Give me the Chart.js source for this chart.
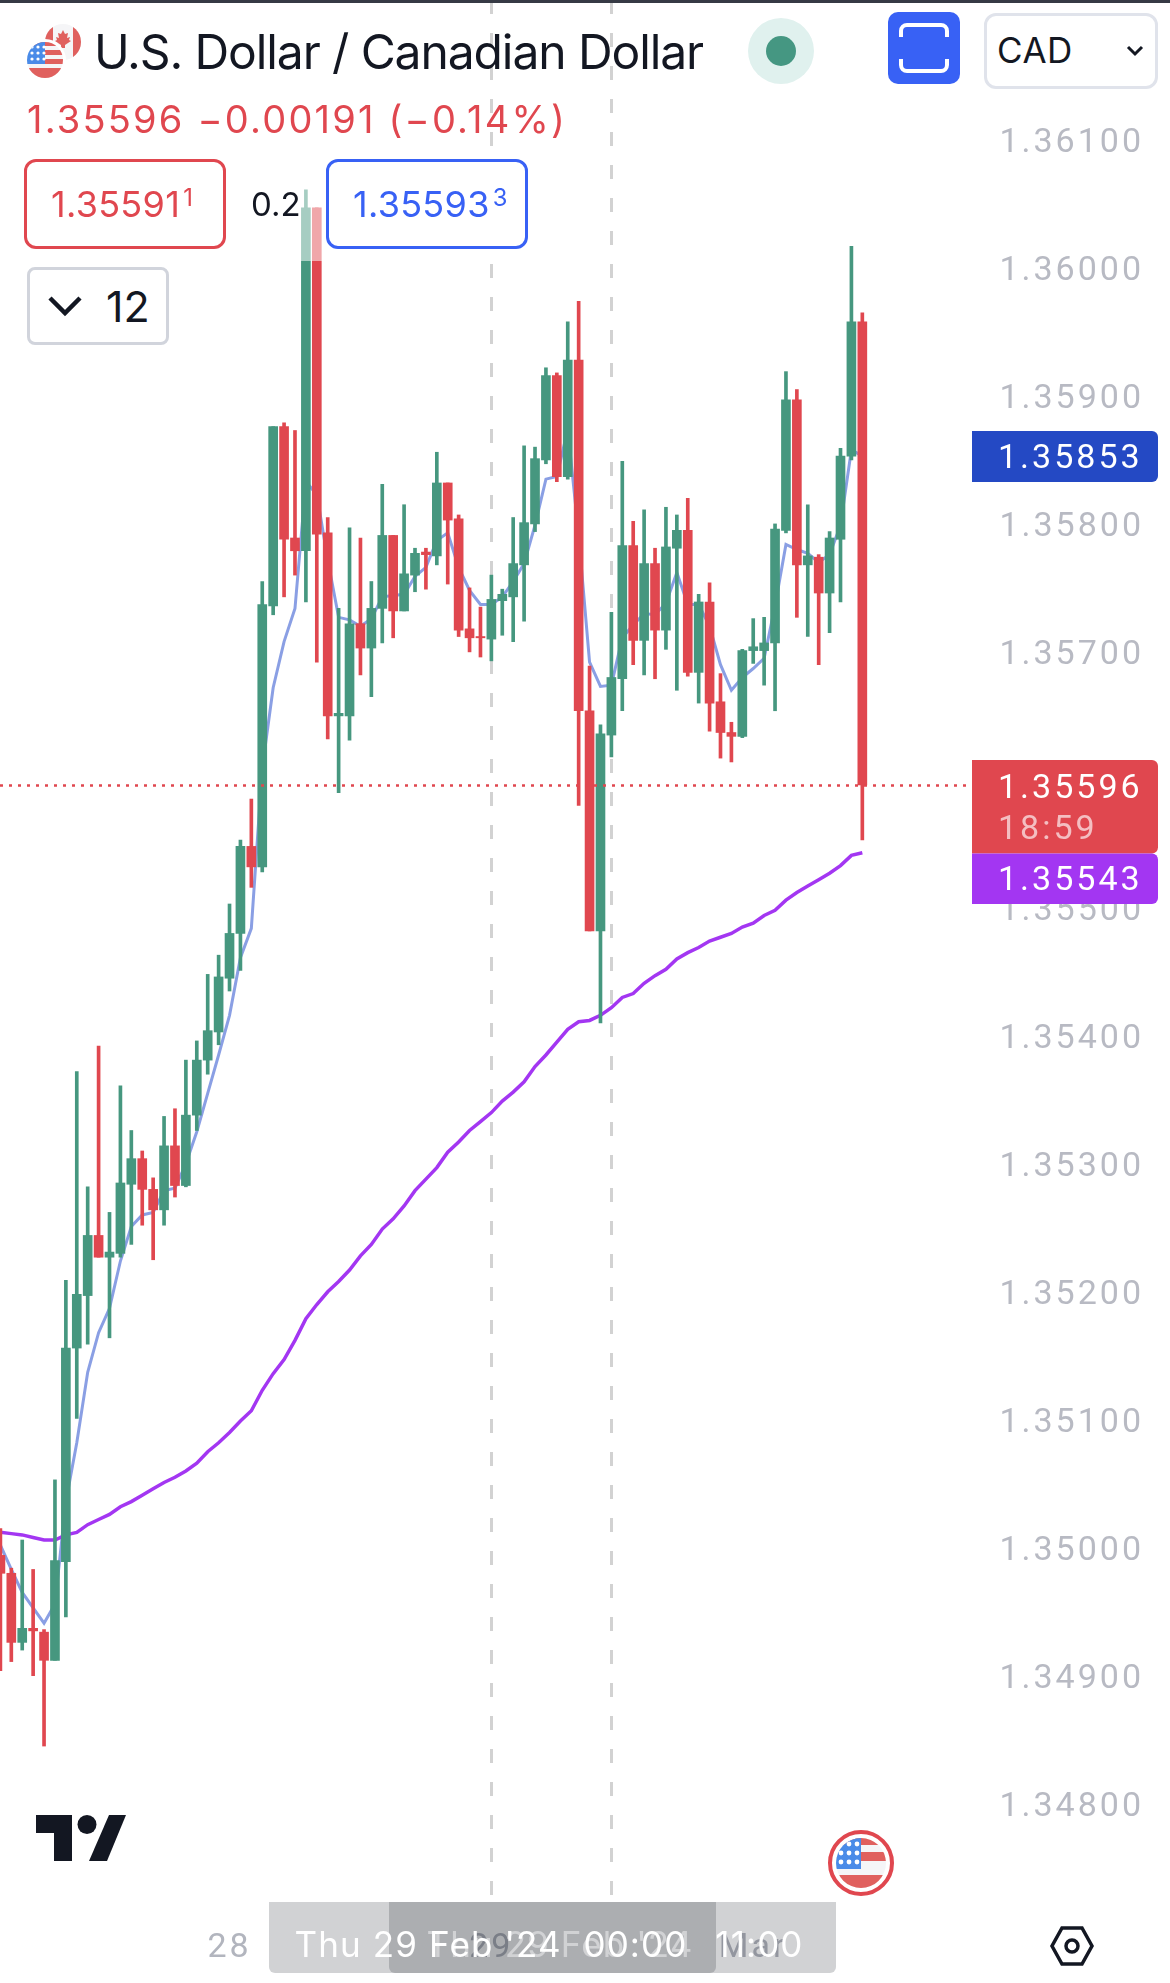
<!DOCTYPE html>
<html>
<head>
<meta charset="utf-8">
<script src="https://cdn.jsdelivr.net/npm/chart.js@4"></script>
<style>
html,body{margin:0;padding:0;background:#fff;width:1170px;height:1983px;overflow:hidden;font-family:Inter,sans-serif;}
#wrap{position:relative;width:1170px;height:1983px;overflow:hidden;}
canvas{position:absolute;left:0;top:0;}
.a{position:absolute;white-space:pre;line-height:1;}
.box{position:absolute;box-sizing:border-box;background:#fff;}
sup{font-size:.66em;vertical-align:baseline;position:relative;top:-.45em;margin-left:3px;}
</style>
</head>
<body>
<div id="wrap">
<canvas id="c" width="1170" height="1983"></canvas>

<div style="position:absolute;left:0;top:0;width:1170px;height:3px;background:#363a45"></div>

<!-- flags -->
<svg class="a" style="left:0;top:0" width="130" height="90" viewBox="0 0 130 90">
 <defs>
  <clipPath id="ca"><circle cx="63" cy="42" r="18"/></clipPath>
  <clipPath id="us"><circle cx="45" cy="60" r="18"/></clipPath>
 </defs>
 <g clip-path="url(#ca)">
  <rect x="45" y="24" width="36" height="36" fill="#f5f5f7"/>
  <rect x="45" y="24" width="8" height="36" fill="#e0605e"/>
  <rect x="73" y="24" width="8" height="36" fill="#e0605e"/>
  <path d="M63 30l2 4 3-1-1 5 3-1-1 3 2 1-6 4v3h-4v-3l-6-4 2-1-1-3 3 1-1-5 3 1z" fill="#e0605e"/>
 </g>
 <circle cx="45" cy="60" r="21" fill="#fff"/>
 <g clip-path="url(#us)">
  <rect x="27" y="42" width="36" height="36" fill="#f5f5f7"/>
  <rect x="27" y="42" width="36" height="4" fill="#e0605e"/>
  <rect x="45" y="50" width="18" height="5" fill="#e0605e"/>
  <rect x="45" y="59" width="18" height="5" fill="#e0605e"/>
  <rect x="27" y="68" width="36" height="10" fill="#e0605e"/>
  <rect x="27" y="42" width="18" height="22" fill="#4a8be8"/>
  <g fill="#fff">
   <circle cx="32" cy="47" r="1.6"/><circle cx="38" cy="47" r="1.6"/><circle cx="44" cy="47" r="1.6"/>
   <circle cx="32" cy="53" r="1.6"/><circle cx="38" cy="53" r="1.6"/><circle cx="44" cy="53" r="1.6"/>
   <circle cx="32" cy="59" r="1.6"/><circle cx="38" cy="59" r="1.6"/><circle cx="44" cy="59" r="1.6"/>
  </g>
 </g>
</svg>

<div class="a" style="left:94px;top:28px;font-size:48px;letter-spacing:-1.1px;color:#131722">U.S. Dollar / Canadian Dollar</div>
<div class="a" style="left:27px;top:100px;font-size:38px;letter-spacing:2.2px;color:#e0474f">1.35596 &#8722;0.00191 (&#8722;0.14%)</div>

<!-- status dot -->
<svg class="a" style="left:745px;top:15px" width="72" height="72"><circle cx="36" cy="36" r="33" fill="#e0f1ee"/><circle cx="36" cy="36" r="15" fill="#459782"/></svg>

<!-- full screen button -->
<svg class="a" style="left:888px;top:12px" width="72" height="72">
 <rect width="72" height="72" rx="10" fill="#3861f5"/>
 <path d="M13 25v-6a6 6 0 0 1 6-6h34a6 6 0 0 1 6 6v6M13 47v6a6 6 0 0 0 6 6h34a6 6 0 0 0 6-6v-6" fill="none" stroke="#fff" stroke-width="4"/>
</svg>

<!-- currency select -->
<div class="box" style="left:984px;top:13px;width:174px;height:76px;border:3px solid #e0e3eb;border-radius:12px"></div>
<div class="a" style="left:997px;top:33px;font-size:35px;letter-spacing:.5px;color:#131722">CAD</div>
<svg class="a" style="left:1126px;top:44px" width="18" height="14"><path d="M2 3l7 7 7-7" fill="none" stroke="#131722" stroke-width="3"/></svg>

<!-- veil over the candles behind the order row -->
<div style="position:absolute;left:235px;top:150px;width:95px;height:111px;background:rgba(255,255,255,.52)"></div>

<!-- sell / buy -->
<div class="box" style="left:24px;top:159px;width:202px;height:90px;border:3px solid #e0474f;border-radius:12px"></div>
<div class="a" style="left:51px;top:186px;font-size:36px;letter-spacing:.3px;color:#e0474f">1.35591<sup>1</sup></div>
<div class="a" style="left:251px;top:188px;font-size:33px;color:#131722">0.2</div>
<div class="box" style="left:326px;top:159px;width:202px;height:90px;border:3px solid #3861f5;border-radius:12px"></div>
<div class="a" style="left:353px;top:186px;font-size:36px;letter-spacing:.3px;color:#3861f5">1.35593<sup>3</sup></div>

<!-- quantity -->
<div class="box" style="left:27px;top:267px;width:142px;height:78px;border:3px solid #d1d4dc;border-radius:8px"></div>
<svg class="a" style="left:47px;top:294px" width="36" height="24"><path d="M3 4l15 15 15-15" fill="none" stroke="#131722" stroke-width="4.5"/></svg>
<div class="a" style="left:106px;top:285px;font-size:43px;color:#131722">12</div>

<!-- logo -->
<svg class="a" style="left:36px;top:1815px" width="90" height="46" viewBox="0 0 90 46" fill="#131722">
 <path d="M0 0h36v46H18V18H0z"/>
 <circle cx="51" cy="9.5" r="9.5"/>
 <path d="M73 0h17L71 46H53z"/>
</svg>

<!-- news flag -->
<svg class="a" style="left:826px;top:1828px" width="70" height="70">
 <defs><clipPath id="us2"><circle cx="35" cy="35" r="25"/></clipPath></defs>
 <circle cx="35" cy="35" r="31" fill="#fff" stroke="#e0474f" stroke-width="4"/>
 <g clip-path="url(#us2)">
  <rect x="8" y="8" width="54" height="54" fill="#f5f5f7"/>
  <rect x="8" y="10" width="54" height="7" fill="#e0605e"/>
  <rect x="35" y="24" width="27" height="9" fill="#e0605e"/>
  <rect x="8" y="47" width="54" height="15" fill="#e0605e"/>
  <rect x="8" y="8" width="27" height="33" fill="#4a8be8"/>
  <g fill="#fff">
   <circle cx="15" cy="16" r="2.4"/><circle cx="23" cy="16" r="2.4"/><circle cx="31" cy="16" r="2.4"/>
   <circle cx="15" cy="25" r="2.4"/><circle cx="23" cy="25" r="2.4"/><circle cx="31" cy="25" r="2.4"/>
   <circle cx="15" cy="34" r="2.4"/><circle cx="23" cy="34" r="2.4"/><circle cx="31" cy="34" r="2.4"/>
  </g>
 </g>
</svg>

<!-- crosshair time labels -->
<div style="position:absolute;left:389px;top:1902px;width:447px;height:71px;background:rgba(19,23,34,.195);border-radius:0 0 6px 6px"></div>
<div class="a" id="t2" style="left:615px;top:1927px;font-size:35px;letter-spacing:1.1px;color:#fff;transform:translateX(-50%)"></div>
<div style="position:absolute;left:269px;top:1902px;width:447px;height:71px;background:rgba(19,23,34,.195);border-radius:0 0 6px 6px"></div>
<div class="a" id="t1" style="left:491px;top:1927px;font-size:35px;letter-spacing:1.1px;color:#fff;transform:translateX(-50%)"></div>

<!-- settings -->
<svg class="a" style="left:1049px;top:1925px" width="46" height="42"><path d="M13 3h20l10 18-10 18H13L3 21z" fill="none" stroke="#131722" stroke-width="3.5"/><circle cx="23" cy="21" r="6" fill="none" stroke="#131722" stroke-width="3.5"/></svg>
</div>

<script>
// One-hour USD/CAD candles, left to right
const opens = [1.34994,1.34980,1.34926,1.34937,1.34934,1.34912,1.34989,1.35156,1.35197,1.35244,1.35227,1.35230,1.35284,1.35304,1.35280,1.35264,1.35314,1.35283,1.35338,1.35381,1.35403,1.35445,1.35480,1.35548,1.35532,1.35736,1.35876,1.35789,1.35779,1.36047,1.35793,1.35650,1.35650,1.35722,1.35703,1.35734,1.35791,1.35732,1.35760,1.35778,1.35775,1.35832,1.35804,1.35718,1.35712,1.35710,1.35740,1.35743,1.35768,1.35800,1.35850,1.35916,1.35837,1.35928,1.35654,1.35482,1.35635,1.35679,1.35783,1.35709,1.35769,1.35717,1.35781,1.35795,1.35684,1.35739,1.35661,1.35637,1.35634,1.35701,1.35701,1.35707,1.35795,1.35897,1.35768,1.35774,1.35746,1.35788,1.35853,1.35958];
const closes = [1.34980,1.34926,1.34937,1.34935,1.34912,1.34990,1.35156,1.35198,1.35244,1.35227,1.35231,1.35285,1.35304,1.35280,1.35264,1.35314,1.35283,1.35338,1.35381,1.35404,1.35446,1.35480,1.35548,1.35532,1.35737,1.35876,1.35788,1.35779,1.36047,1.35792,1.35650,1.35652,1.35722,1.35703,1.35734,1.35791,1.35732,1.35761,1.35777,1.35776,1.35832,1.35803,1.35717,1.35711,1.35711,1.35741,1.35745,1.35769,1.35801,1.35851,1.35916,1.35837,1.35928,1.35654,1.35482,1.35636,1.35680,1.35783,1.35709,1.35769,1.35717,1.35782,1.35795,1.35684,1.35739,1.35660,1.35637,1.35634,1.35701,1.35704,1.35707,1.35796,1.35897,1.35768,1.35775,1.35746,1.35789,1.35853,1.35958,1.35596];
const highs = [1.35015,1.34984,1.35006,1.34983,1.34936,1.35053,1.35209,1.35372,1.35282,1.35392,1.35262,1.35361,1.35326,1.35310,1.35289,1.35337,1.35343,1.35381,1.35396,1.35448,1.35463,1.35503,1.35553,1.35585,1.35755,1.35876,1.35879,1.35873,1.36061,1.36047,1.35805,1.35734,1.35797,1.35789,1.35755,1.35831,1.35791,1.35815,1.35781,1.35781,1.35856,1.35832,1.35807,1.35750,1.35735,1.35760,1.35749,1.35805,1.35861,1.35860,1.35922,1.35918,1.35958,1.35974,1.35689,1.35643,1.35731,1.35849,1.35802,1.35811,1.35781,1.35813,1.35807,1.35820,1.35745,1.35754,1.35683,1.35645,1.35702,1.35726,1.35727,1.35800,1.35919,1.35905,1.35815,1.35776,1.35794,1.35859,1.36017,1.35965];
const lows = [1.34904,1.34911,1.34920,1.34900,1.34845,1.34912,1.34946,1.35101,1.35159,1.35227,1.35164,1.35227,1.35237,1.35252,1.35225,1.35252,1.35274,1.35282,1.35326,1.35370,1.35393,1.35435,1.35451,1.35516,1.35528,1.35729,1.35743,1.35760,1.35739,1.35692,1.35632,1.35590,1.35631,1.35682,1.35665,1.35707,1.35711,1.35732,1.35747,1.35749,1.35768,1.35753,1.35712,1.35700,1.35696,1.35693,1.35713,1.35708,1.35724,1.35794,1.35847,1.35833,1.35835,1.35580,1.35482,1.35410,1.35618,1.35654,1.35690,1.35682,1.35679,1.35702,1.35670,1.35681,1.35660,1.35638,1.35617,1.35614,1.35633,1.35691,1.35674,1.35654,1.35793,1.35727,1.35712,1.35690,1.35715,1.35739,1.35850,1.35553];
const fastMA = [1.35002,1.34983,1.34965,1.34953,1.34941,1.34956,1.35036,1.35082,1.35137,1.35168,1.35187,1.35224,1.35251,1.35260,1.35262,1.35279,1.35281,1.35300,1.35325,1.35355,1.35385,1.35416,1.35461,1.35484,1.35609,1.35672,1.35708,1.35734,1.35833,1.35823,1.35772,1.35727,1.35725,1.35720,1.35726,1.35743,1.35744,1.35745,1.35759,1.35766,1.35787,1.35793,1.35766,1.35748,1.35737,1.35737,1.35743,1.35755,1.35769,1.35799,1.35835,1.35837,1.35874,1.35791,1.35692,1.35673,1.35674,1.35711,1.35721,1.35730,1.35729,1.35738,1.35762,1.35737,1.35737,1.35720,1.35690,1.35670,1.35680,1.35687,1.35695,1.35736,1.35784,1.35780,1.35777,1.35770,1.35776,1.35799,1.35858,1.35853];
const slowMA = [1.35012,1.35011,1.35010,1.35008,1.35006,1.35006,1.35010,1.35012,1.35018,1.35022,1.35026,1.35032,1.35036,1.35041,1.35046,1.35051,1.35055,1.35060,1.35066,1.35075,1.35082,1.35090,1.35099,1.35107,1.35123,1.35136,1.35147,1.35162,1.35179,1.35190,1.35200,1.35208,1.35217,1.35228,1.35237,1.35249,1.35257,1.35267,1.35279,1.35288,1.35297,1.35309,1.35317,1.35326,1.35333,1.35340,1.35349,1.35356,1.35364,1.35376,1.35385,1.35395,1.35405,1.35411,1.35412,1.35416,1.35422,1.35430,1.35433,1.35441,1.35447,1.35452,1.35460,1.35465,1.35469,1.35474,1.35477,1.35480,1.35485,1.35488,1.35494,1.35498,1.35506,1.35512,1.35517,1.35522,1.35527,1.35533,1.35541,1.35543];

const priceTicks = [1.361,1.36,1.359,1.358,1.357,1.356,1.355,1.354,1.353,1.352,1.351,1.35,1.349,1.348];
const timeTickIndex = [21,45,69];
const timeTickLabels = ['28','29','Mar'];
const crosshairIndex = [45,56];
const crosshairLabels = ["Thu 29 Feb '24  00:00","Thu 29 Feb '24  11:00"];
const lastPrice = 1.35596;
const countdown = '18:59';
const fastLast = 1.35853;
const slowLast = 1.35543;

const GREEN = '#46977f', RED = '#e0474f', BLUE_MA = '#8a9fe4', PURPLE = '#a336f2';
const FONT = 'Roboto, sans-serif';
const candleColor = opens.map((o,i) => closes[i] >= o ? GREEN : RED);

document.getElementById('t1').textContent = crosshairLabels[0];
document.getElementById('t2').textContent = crosshairLabels[1];

const overlays = {
  id:'overlays',
  beforeDraw(chart){
    chart.ctx.letterSpacing = '3px';
    // nudge the price labels down to sit on their levels
    chart.scales.y.getLabelItems(chart.chartArea).forEach(it => { if(!it.nudged){ it.options.translation[1] += 3.5; it.nudged = true; } });
  },
  beforeDatasetsDraw(chart){
    const {ctx, scales:{x}} = chart;
    ctx.save();
    ctx.strokeStyle = '#d2d2d2'; ctx.lineWidth = 3; ctx.setLineDash([14,19]);
    crosshairIndex.forEach(i => {
      const px = Math.round(x.getPixelForValue(i)) + .5;
      ctx.beginPath(); ctx.moveTo(px,0); ctx.lineTo(px,1896); ctx.stroke();
    });
    ctx.restore();
  },
  afterDatasetsDraw(chart){
    const {ctx, scales:{y}} = chart;
    const py = y.getPixelForValue(lastPrice);
    ctx.save();
    ctx.strokeStyle = RED; ctx.lineWidth = 2.5; ctx.setLineDash([3,6]);
    ctx.beginPath(); ctx.moveTo(0,Math.round(py)+.5); ctx.lineTo(968,Math.round(py)+.5); ctx.stroke();
    ctx.setLineDash([]);
    const tag = (top,h,color) => {
      ctx.fillStyle = color; ctx.beginPath();
      ctx.roundRect(972,top,186,h,[0,6,6,0]); ctx.fill();
    };
    ctx.textAlign='left'; ctx.textBaseline='middle';
    ctx.font = '400 34px '+FONT;
    const yf = y.getPixelForValue(fastLast);
    tag(yf-25,51,'#2449c4');
    ctx.fillStyle='#fff'; ctx.fillText(fastLast.toFixed(5),998,yf+3.5);
    tag(py-25,93.5,RED);
    ctx.fillStyle='#fff'; ctx.fillText(lastPrice.toFixed(5),998,py+4.5);
    ctx.fillStyle='rgba(255,255,255,.65)'; ctx.fillText(countdown,998,py+45.5);
    const ys = y.getPixelForValue(slowLast);
    tag(py+68.5,50.5,PURPLE);
    ctx.fillStyle='#fff'; ctx.fillText(slowLast.toFixed(5),998,ys+28.5);
    ctx.restore();
  }
};

new Chart(document.getElementById('c'),{
  data:{datasets:[
    {type:'line',order:4,data:fastMA.map((v,i)=>({x:i,y:v})),borderColor:BLUE_MA,borderWidth:3,pointRadius:0,tension:0},
    {type:'line',order:3,data:slowMA.map((v,i)=>({x:i,y:v})),borderColor:PURPLE,borderWidth:3.5,pointRadius:0,tension:0},
    {type:'bar',order:2,grouped:false,barThickness:3,data:highs.map((h,i)=>({x:i,y:[lows[i],h]})),backgroundColor:candleColor},
    {type:'bar',order:1,grouped:false,barThickness:9,data:opens.map((o,i)=>({x:i,y:[o,closes[i]]})),backgroundColor:candleColor}
  ]},
  options:{
    responsive:false,animation:false,devicePixelRatio:1,
    layout:{padding:0},
    plugins:{legend:{display:false},tooltip:{enabled:false}},
    scales:{
      x:{type:'linear',offset:false,min:-0.037,max:107.2,
        grid:{display:false},border:{display:false},
        afterBuildTicks(s){ s.ticks = timeTickIndex.map(v=>({value:v})); },
        afterFit(s){ s.height = 83; s.paddingLeft = 0; s.paddingRight = 0; },
        ticks:{autoSkip:false,maxRotation:0,padding:20,color:'#b2b5be',
          font:{family:FONT,size:34,weight:'400'},
          callback(v){ const k=timeTickIndex.indexOf(v); return k<0?'':timeTickLabels[k]; }}
      },
      y:{type:'linear',position:'right',min:1.347247,max:1.362094,
        grid:{display:false},border:{display:false},
        afterBuildTicks(s){ s.ticks = priceTicks.map(v=>({value:v})); },
        afterFit(s){ s.width = 0; s.paddingTop = 0; s.paddingBottom = 0; },
        ticks:{mirror:true,padding:-26,color:'#b8bac3',autoSkip:false,
          font:{family:FONT,size:34,weight:'400'},
          callback(v){ return v.toFixed(5); }}
      }
    }
  },
  plugins:[overlays]
});
</script>
</body>
</html>
